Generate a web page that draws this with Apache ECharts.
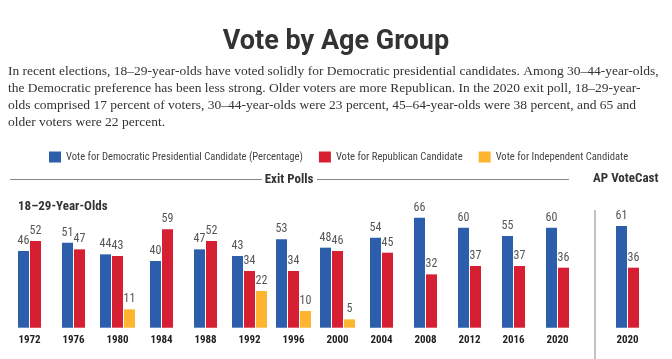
<!DOCTYPE html>
<html>
<head>
<meta charset="utf-8">
<script src="https://cdn.jsdelivr.net/npm/echarts@6/dist/echarts.min.js"></script>
<style>html,body{margin:0;padding:0;background:#fff;}#c{width:672px;height:359px;}</style>
</head>
<body>
<div id="c"></div>
<script>
const years = ['1972','1976','1980','1984','1988','1992','1996','2000','2004','2008','2012','2016','2020'];
const demVotes = [46,51,44,40,47,43,53,48,54,66,60,55,60];
const repVotes = [52,47,43,59,52,34,34,46,45,32,37,37,36];
const indVotes = [null,null,11,null,null,22,10,5,null,null,null,null,null];
const apYears = ['2020'];
const apDem = [61];
const apRep = [36];
const seriesNames = ['Vote for Democratic Presidential Candidate (Percentage)','Vote for Republican Candidate','Vote for Independent Candidate'];
const titleText = 'Vote by Age Group';
const descText = 'In recent elections, 18–29-year-olds have voted solidly for Democratic presidential candidates. Among 30–44-year-olds,\nthe Democratic preference has been less strong. Older voters are more Republican. In the 2020 exit poll, 18–29-year-\nolds comprised 17 percent of voters, 30–44-year-olds were 23 percent, 45–64-year-olds were 38 percent, and 65 and\nolder voters were 22 percent.';

const NARROW = "'Liberation Sans Narrow','Roboto Condensed','Liberation Sans',Arial,sans-serif";
const colors = ['#2D5EAB','#D71F34','#FDB52F'];

const has3 = indVotes.map(v => v != null);
const pick = (arr, cond) => arr.map((v,i) => cond(i) ? v : null);

const label = {show:true, position:'top', distance:4, color:'#555', fontSize:12, fontFamily:NARROW};
function bar(name, data, xi, yi, color) {
  return {type:'bar', name, data, xAxisIndex:xi, yAxisIndex:yi, barWidth:11, barGap:'9%',
    itemStyle:{color}, label, emphasis:{disabled:true}, animation:false};
}

const catAxis = (gi, data, show) => ({type:'category', gridIndex:gi, data, show,
  axisLine:{show:false}, axisTick:{show:false},
  axisLabel:{color:'#222', fontWeight:'bold', fontSize:11, fontFamily:NARROW, margin:7}});
const valAxis = gi => ({type:'value', gridIndex:gi, min:0, max:100, show:false});

const chart = echarts.init(document.getElementById('c'), null, {renderer:'canvas'});
chart.setOption({
  backgroundColor:'#fff',
  animation:false,
  title:[{text:titleText, left:'center', top:24,
    textStyle:{fontFamily:'Roboto', fontWeight:'bold', fontSize:27, color:'#333'}}],
  legend:{data:seriesNames, left:44, top:146.5, itemWidth:12, itemHeight:11, itemGap:16, icon:'rect',
    selectedMode:false,
    textStyle:{fontSize:10.6, color:'#444', fontFamily:NARROW}},
  grid:[{left:7.5, width:572, top:161, bottom:31.3},
        {left:605.5, width:44, top:161, bottom:31.3}],
  xAxis:[catAxis(0, years, true), catAxis(0, years, false), catAxis(1, apYears, true)],
  yAxis:[valAxis(0), valAxis(0), valAxis(1)],
  series:[
    bar(seriesNames[0], pick(demVotes, i => has3[i]), 0, 0, colors[0]),
    bar(seriesNames[1], pick(repVotes, i => has3[i]), 0, 0, colors[1]),
    bar(seriesNames[2], pick(indVotes, i => has3[i]), 0, 0, colors[2]),
    bar(seriesNames[0], pick(demVotes, i => !has3[i]), 1, 1, colors[0]),
    bar(seriesNames[1], pick(repVotes, i => !has3[i]), 1, 1, colors[1]),
    bar(seriesNames[0], apDem, 2, 2, colors[0]),
    bar(seriesNames[1], apRep, 2, 2, colors[1])
  ],
  graphic:[
    {type:'text', left:8, top:63, style:{text:descText, font:"13.5px 'Liberation Serif',serif", fill:'#333', lineHeight:17}},
    {type:'line', shape:{x1:10, y1:179.5, x2:262, y2:179.5}, style:{stroke:'#888', lineWidth:1}},
    {type:'text', x:289, y:179.5, style:{text:'Exit Polls', font:"bold 13px "+NARROW, fill:'#333', align:'center', verticalAlign:'middle'}},
    {type:'line', shape:{x1:317, y1:179.5, x2:569, y2:179.5}, style:{stroke:'#888', lineWidth:1}},
    {type:'text', x:593, y:178.5, style:{text:'AP VoteCast', font:"bold 13px "+NARROW, fill:'#333', align:'left', verticalAlign:'middle'}},
    {type:'line', shape:{x1:595, y1:210, x2:595, y2:359}, style:{stroke:'#999', lineWidth:1.2}},
    {type:'text', x:18, y:207, style:{text:'18–29-Year-Olds', font:"bold 13px "+NARROW, fill:'#333', align:'left', verticalAlign:'middle'}}
  ]
});
</script>
</body>
</html>
